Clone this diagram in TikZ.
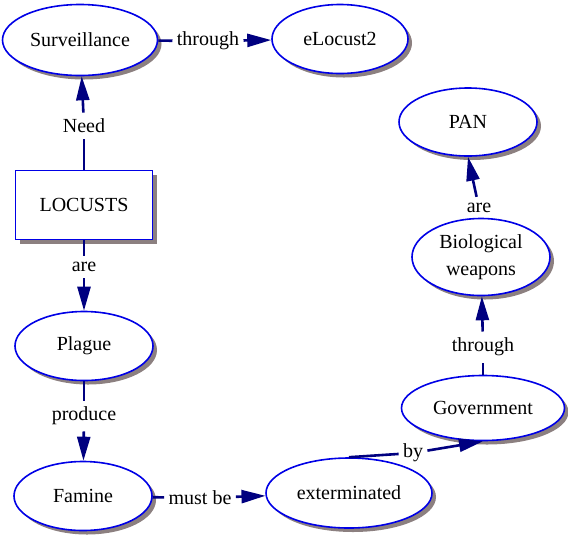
\documentclass[tikz,border=0pt]{standalone}
\usepackage{fontspec}
\setmainfont{Liberation Serif}
\usepackage{tikz}
\usetikzlibrary{arrows.meta,shapes.geometric,shadows}

\definecolor{cblue}{RGB}{0,0,230}
\definecolor{cnavy}{RGB}{0,0,128}
\definecolor{cshade}{RGB}{140,128,128}

\tikzset{
    concept/.style={ellipse, draw=cblue, line width=0.8pt, fill=white, inner sep=0pt,
        drop shadow={shadow xshift=2pt, shadow yshift=-2pt, fill=cshade, opacity=1},
        font=\fontsize{10}{13.5}\selectfont, align=center},
    topbox/.style={rectangle, draw=cblue, line width=0.8pt, fill=white, inner sep=0pt,
        drop shadow={shadow xshift=2pt, shadow yshift=-2pt, fill=cshade, opacity=1},
        font=\fontsize{10}{12}\selectfont},
    linkword/.style={inner xsep=2pt, inner ysep=3pt, font=\fontsize{10}{12}\selectfont},
    link/.style={draw=cnavy, line width=1.3pt},
    linkto/.style={link, -{Triangle[length=12pt,width=6.5pt]}},
}

\begin{document}
\begin{tikzpicture}[x=0.5pt,y=-0.5pt]
        \useasboundingbox (0,0) rectangle (568,537);
        % concepts
        \node[concept, minimum width=77.5pt, minimum height=35.5pt] (surv) at (80,40) {Surveillance};
        \node[concept, minimum width=68pt, minimum height=34.5pt] (eloc) at (340,39) {eLocust2};
        \node[topbox, minimum width=68.5pt, minimum height=34.5pt] (loc) at (84,205) {LOCUSTS};
        \node[concept, minimum width=69pt, minimum height=34.5pt] (plague) at (84,346) {Plague};
        \node[concept, minimum width=69pt, minimum height=34.5pt] (famine) at (83,496) {Famine};
        \node[concept, minimum width=83pt, minimum height=35pt] (ext) at (349,493) {exterminated};
        \node[concept, minimum width=81.5pt, minimum height=32.5pt] (gov) at (483,408) {Government};
        \node[concept, minimum width=69pt, minimum height=38.5pt] (bio) at (481,257) {Biological\\weapons};
        \node[concept, minimum width=69pt, minimum height=34pt] (pan) at (468,122) {PAN};
        % linking words
        \node[linkword] (thr1) at (208,41) {through};
        \node[linkword] (need) at (84,126) {Need};
        \node[linkword] (are1) at (84,267) {are};
        \node[linkword] (prod) at (84,416) {produce};
        \node[linkword] (must) at (200,498) {must be};
        \node[linkword] (by) at (413,453) {by};
        \node[linkword] (thr2) at (483,347) {through};
        \node[linkword] (are2) at (479,208) {are};
        % links
        \draw[link] (surv) -- (thr1);
        \draw[linkto] (thr1) -- (eloc);
        \draw[link] (loc) -- (need);
        \draw[linkto] (need) -- (surv);
        \draw[link] (loc) -- (are1);
        \draw[linkto] (are1) -- (plague);
        \draw[link] (plague) -- (prod);
        \draw[linkto] (prod) -- (famine);
        \draw[link] (famine) -- (must);
        \draw[linkto] (must) -- (ext);
        \draw[link] (ext.north) -- (by);
        \draw[linkto] (by) -- (gov.south);
        \draw[link] (gov) -- (thr2);
        \draw[linkto] (thr2) -- (bio);
        \draw[linkto] (are2) -- (pan.south);
    \end{tikzpicture}
\end{document}
